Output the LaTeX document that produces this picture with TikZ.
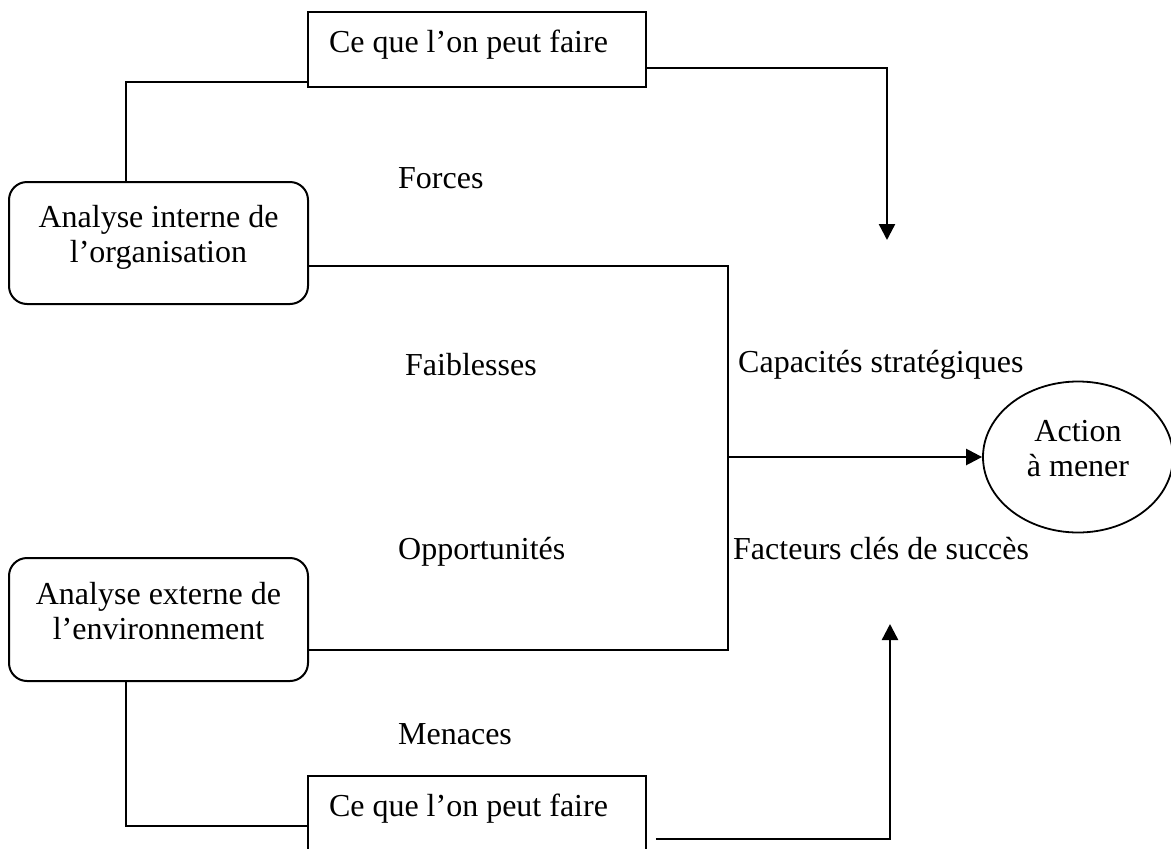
\documentclass[tikz,border=0pt]{standalone}
\usepackage{fontspec}
\setmainfont{Liberation Serif}
\usetikzlibrary{arrows.meta,calc,shapes.geometric}
\begin{document}
\begin{tikzpicture}[x=1pt,y=-1pt,
  font=\fontsize{32}{35}\selectfont,
  thinline/.style={line width=1.6pt},
  flow/.style={line width=2.4pt,-{Triangle[length=16pt,width=16pt]}},
  panel/.style={draw,line width=1.6pt,inner sep=0pt},
  roundpanel/.style={draw,line width=2pt,inner sep=0pt,rounded corners=18pt},
  caption/.style={anchor=base west,inner sep=0pt},
]
\useasboundingbox (0,0) rectangle (1171,849);
\clip (0,0) rectangle (1171,849);

% boxes
\node[panel] (doTop) at (477,49.5)
  {\parbox[c][75pt][t]{338pt}{\noindent\hspace*{21pt}\rule{0pt}{40.5pt}Ce que l’on peut faire}};
\node[roundpanel] (internal) at (158.5,243)
  {\parbox[c][122pt][t]{299pt}{\centering\rule{0pt}{45pt}Analyse interne de\\l’organisation}};
\node[roundpanel] (external) at (158.5,619.5)
  {\parbox[c][123pt][t]{299pt}{\centering\rule{0pt}{46pt}Analyse externe de\\l’environnement}};
\node[panel] (doBottom) at (477,813.5)
  {\parbox[c][75pt][t]{338pt}{\noindent\hspace*{21pt}\rule{0pt}{40.5pt}Ce que l’on peut faire}};
\node[draw,ellipse,line width=1.8pt,minimum width=190pt,minimum height=151pt,
  inner sep=0pt] (action) at (1078,457)
  {\parbox[c][100pt][t]{120pt}{\centering\rule{0pt}{34pt}Action\\à mener}};

% free labels
\node[caption] (forces) at (398,188) {Forces};
\node[caption] (faiblesses) at (405,375) {Faiblesses};
\node[caption] (opportunites) at (398,559) {Opportunités};
\node[caption] (menaces) at (398,744) {Menaces};
\node[caption] (capacites) at (738,372) {Capacités stratégiques};
\node[caption] (facteurs) at (733,559) {Facteurs clés de succès};

% connectors
\coordinate (topTip) at (887,240);
\coordinate (junction) at (728,457);
\coordinate (bottomTip) at (890,624);

\draw[thinline] ($(doTop.south west)+(0,-6)$) -| ($(internal.north west)+(118,0)$);
\draw[flow] ($(doTop.north east)+(0,57)$) -| (topTip);
\draw[thinline] ($(internal.south east)+(0,-39)$) -| (junction) |- ($(external.south east)+(0,-32)$);
\draw[flow] (junction) -- (action.west);
\draw[thinline] ($(external.south west)+(118,0)$) |- ($(doBottom.north west)+(0,51)$);
\draw[flow] ($(doBottom.south east)+(9,-13)$) -| (bottomTip);
\end{tikzpicture}
\end{document}
